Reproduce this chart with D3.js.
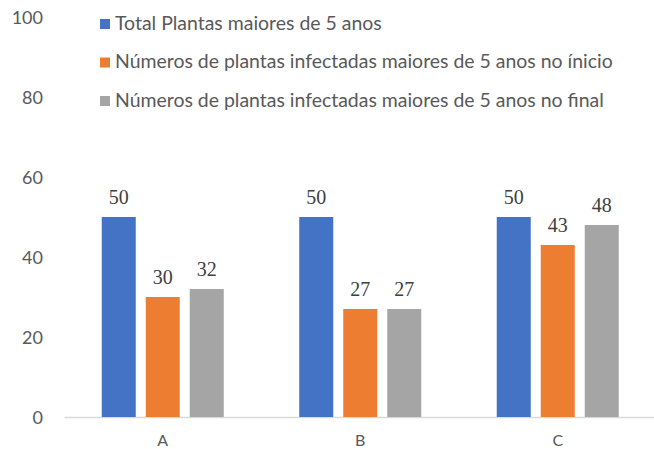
<!DOCTYPE html>
<html><head><meta charset="utf-8">
<script src="https://cdn.jsdelivr.net/npm/d3@7"></script>
<style>body{margin:0;background:#fff}svg{display:block}</style>
</head><body>
<svg id="c" width="654" height="449"></svg>
<script>
const categories = ["A", "B", "C"];
const seriesNames = [
  "Total Plantas maiores de 5 anos",
  "Números de plantas infectadas maiores de 5 anos no ínicio",
  "Números de plantas infectadas maiores de 5 anos no final"
];
const totalPlantas = [50, 50, 50];
const infectadasInicio = [30, 27, 43];
const infectadasFinal = [32, 27, 48];
const yTicks = [0, 20, 40, 60, 80, 100];
const colors = ["#4472C4", "#ED7D31", "#A5A5A5"];

const seriesValues = [totalPlantas, infectadasInicio, infectadasFinal];
const svg = d3.select("#c");

const x0 = d3.scaleBand().domain(categories).range([64, 656.5]).paddingInner(0).paddingOuter(0);
const y = d3.scaleLinear().domain([0, 100]).range([417, 17]);
const groupW = 122;
const x1 = d3.scaleBand().domain(d3.range(3)).range([0, groupW]).paddingInner(10/44).paddingOuter(0);

// y axis labels (no line)
const yAxis = d3.axisLeft(y).tickValues(yTicks).tickSize(0).tickPadding(0);
const gy = svg.append("g").attr("transform", "translate(43,0)").call(yAxis);
gy.select(".domain").remove();
gy.selectAll("text").attr("fill", "#595959").style("font-family", "Lato, 'Open Sans', sans-serif").style("font-size", "18px").attr("dy", "0.36em");

// x axis
const xAxis = d3.axisBottom(x0).tickSize(0).tickPadding(0);
const gx = svg.append("g").attr("transform", `translate(0,${y(0)})`).call(xAxis);
gx.select(".domain").attr("stroke", "#D9D9D9").attr("stroke-width", 1.3);
gx.selectAll("text").attr("fill", "#595959").style("font-family", "Lato, 'Open Sans', sans-serif").style("font-size", "16px").attr("dy", null).attr("y", 29);

// bars
const groups = svg.append("g").selectAll("g").data(categories).join("g")
  .attr("transform", c => `translate(${x0(c) + x0.bandwidth()/2 - groupW/2},0)`);

groups.each(function(c, ci) {
  const g = d3.select(this);
  const data = seriesValues.map((vals, si) => ({si, v: vals[ci]}));
  g.selectAll("rect").data(data).join("rect")
    .attr("x", d => x1(d.si))
    .attr("width", x1.bandwidth())
    .attr("y", d => y(d.v))
    .attr("height", d => y(0) - y(d.v))
    .attr("fill", d => colors[d.si]);
  g.selectAll("text").data(data).join("text")
    .attr("x", d => x1(d.si) + x1.bandwidth()/2)
    .attr("y", d => y(d.v) - 13.5)
    .attr("text-anchor", "middle")
    .attr("fill", "#404040")
    .style("font-family", "'Liberation Serif', 'Times New Roman', serif")
    .style("font-size", "20px")
    .text(d => d.v);
});

// legend
const legendY = [29.5, 68, 106.5];
const leg = svg.append("g");
seriesNames.forEach((name, i) => {
  leg.append("rect").attr("x", 100).attr("y", legendY[i] - 10.5).attr("width", 10).attr("height", 10).attr("fill", colors[i]);
  leg.append("text").attr("class", "lt").attr("x", 115).attr("y", legendY[i])
    .attr("fill", "#595959")
    .style("font-family", "Lato, 'Open Sans', sans-serif")
    .style("font-size", "20px")
    .text(name);
});
// fit legend font so the longest entry spans the same width as in the reference
const lt = leg.selectAll("text.lt").nodes();
const w = lt[1].getComputedTextLength();
const fs = 20 * 498 / w;
leg.selectAll("text.lt").style("font-size", fs + "px");
</script>
</body></html>
